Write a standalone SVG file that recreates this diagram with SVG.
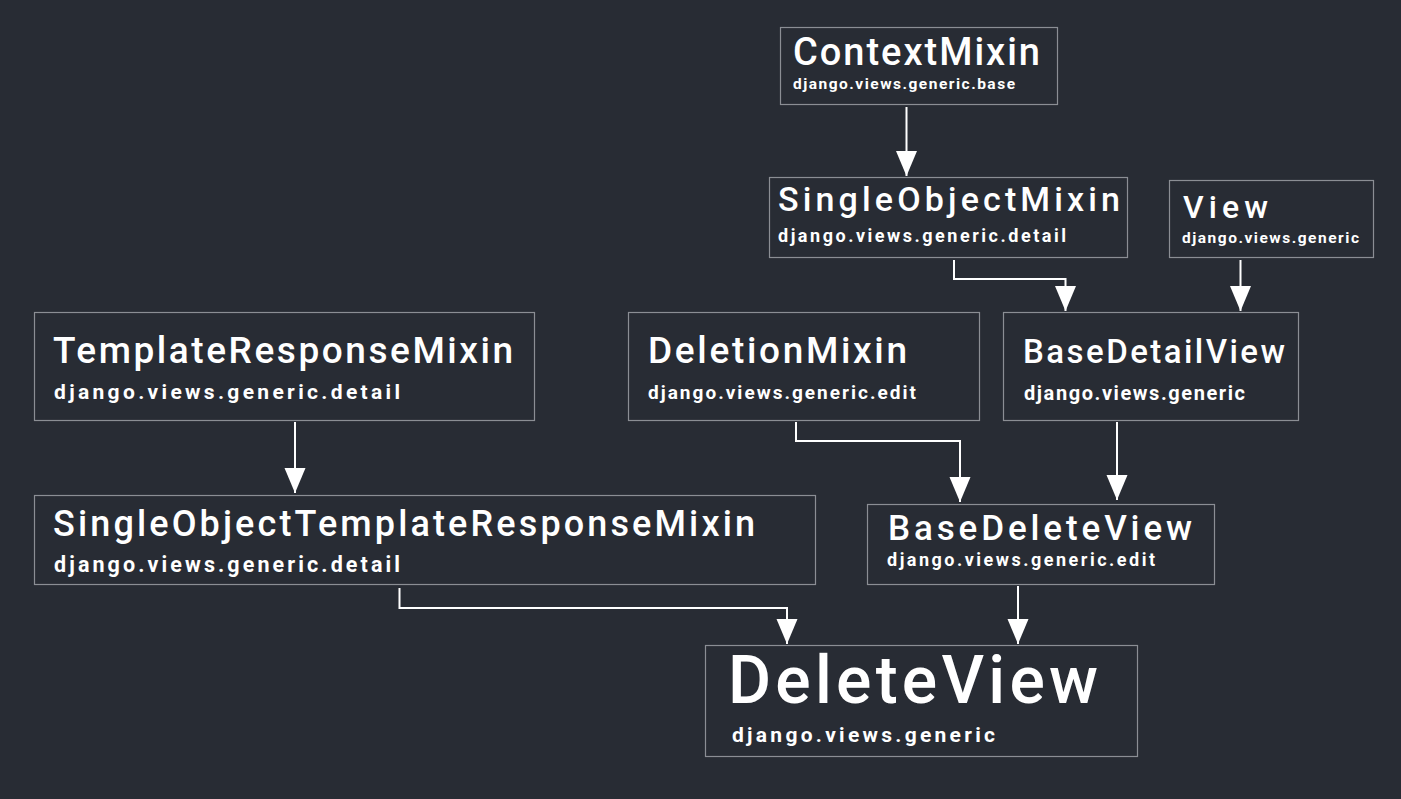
<svg xmlns="http://www.w3.org/2000/svg" width="1401" height="799" viewBox="0 0 1401 799">
<defs>
<style>
.box{fill:#282c34;stroke:#8b8e94;stroke-width:1.2}
.t{fill:#ffffff;font-family:Roboto,"Noto Sans","DejaVu Sans",sans-serif;font-weight:500}
.s{fill:#ffffff;font-family:Roboto,"Noto Sans","DejaVu Sans",sans-serif;font-weight:700}
.c{fill:none;stroke:#ffffff;stroke-width:2}
</style>
<marker id="ah" markerUnits="userSpaceOnUse" markerWidth="26" markerHeight="22" refX="25" refY="10.5" orient="auto" viewBox="0 0 26 22">
<path d="M0,0 L25,10.5 L0,21 z" fill="#ffffff"/>
</marker>
</defs>
<rect width="1401" height="799" fill="#282c34"/>
<g id="connectors">
<path class="c" d="M906.5,107 V176" marker-end="url(#ah)"/>
<path class="c" d="M954,260 V279 H1065.5 V311" marker-end="url(#ah)"/>
<path class="c" d="M1240.5,260 V311" marker-end="url(#ah)"/>
<path class="c" d="M295,422 V493" marker-end="url(#ah)"/>
<path class="c" d="M796,422 V441 H960 V502" marker-end="url(#ah)"/>
<path class="c" d="M1117,422 V500" marker-end="url(#ah)"/>
<path class="c" d="M399.5,588 V608 H787 V644" marker-end="url(#ah)"/>
<path class="c" d="M1018,586 V644" marker-end="url(#ah)"/>
</g>
<g id="ContextMixin">
<rect class="box" x="780.5" y="27.5" width="277" height="77"/>
<text class="t" x="793" y="65" font-size="38" textLength="247" lengthAdjust="spacing">ContextMixin</text>
<text class="s" x="793" y="88.5" font-size="15.5" textLength="222" lengthAdjust="spacing">django.views.generic.base</text>
</g>
<g id="SingleObjectMixin">
<rect class="box" x="769.5" y="177.5" width="358" height="80"/>
<text class="t" x="778" y="210.5" font-size="34" textLength="342" lengthAdjust="spacing">SingleObjectMixin</text>
<text class="s" x="778" y="242" font-size="18" textLength="288" lengthAdjust="spacing">django.views.generic.detail</text>
</g>
<g id="View">
<rect class="box" x="1169.5" y="180.5" width="204" height="77"/>
<text class="t" x="1183" y="218" font-size="32" textLength="85" lengthAdjust="spacing">View</text>
<text class="s" x="1182" y="243" font-size="15.5" textLength="177" lengthAdjust="spacing">django.views.generic</text>
</g>
<g id="TemplateResponseMixin">
<rect class="box" x="34.5" y="312.5" width="500" height="108"/>
<text class="t" x="53" y="363" font-size="37" textLength="460" lengthAdjust="spacing">TemplateResponseMixin</text>
<text class="s" x="54" y="399" font-size="21" textLength="346" lengthAdjust="spacing">django.views.generic.detail</text>
</g>
<g id="DeletionMixin">
<rect class="box" x="628.5" y="312.5" width="351" height="108"/>
<text class="t" x="648" y="363" font-size="37" textLength="259" lengthAdjust="spacing">DeletionMixin</text>
<text class="s" x="648" y="399" font-size="19" textLength="268" lengthAdjust="spacing">django.views.generic.edit</text>
</g>
<g id="BaseDetailView">
<rect class="box" x="1003.5" y="312.5" width="295" height="108"/>
<text class="t" x="1023" y="363" font-size="33" textLength="262" lengthAdjust="spacing">BaseDetailView</text>
<text class="s" x="1024" y="400" font-size="20" textLength="221" lengthAdjust="spacing">django.views.generic</text>
</g>
<g id="SingleObjectTemplateResponseMixin">
<rect class="box" x="34.5" y="495.5" width="781" height="89"/>
<text class="t" x="53" y="536" font-size="36" textLength="702" lengthAdjust="spacing">SingleObjectTemplateResponseMixin</text>
<text class="s" x="54" y="571.5" font-size="21.5" textLength="346" lengthAdjust="spacing">django.views.generic.detail</text>
</g>
<g id="BaseDeleteView">
<rect class="box" x="867.5" y="504.5" width="347" height="80"/>
<text class="t" x="888" y="540" font-size="35" textLength="304" lengthAdjust="spacing">BaseDeleteView</text>
<text class="s" x="887" y="565.5" font-size="18" textLength="268" lengthAdjust="spacing">django.views.generic.edit</text>
</g>
<g id="DeleteView">
<rect class="box" x="705.5" y="645.5" width="432" height="111"/>
<text class="t" x="728" y="703" font-size="66" textLength="370" lengthAdjust="spacing">DeleteView</text>
<text class="s" x="732" y="742" font-size="21" textLength="263" lengthAdjust="spacing">django.views.generic</text>
</g>
</svg>
